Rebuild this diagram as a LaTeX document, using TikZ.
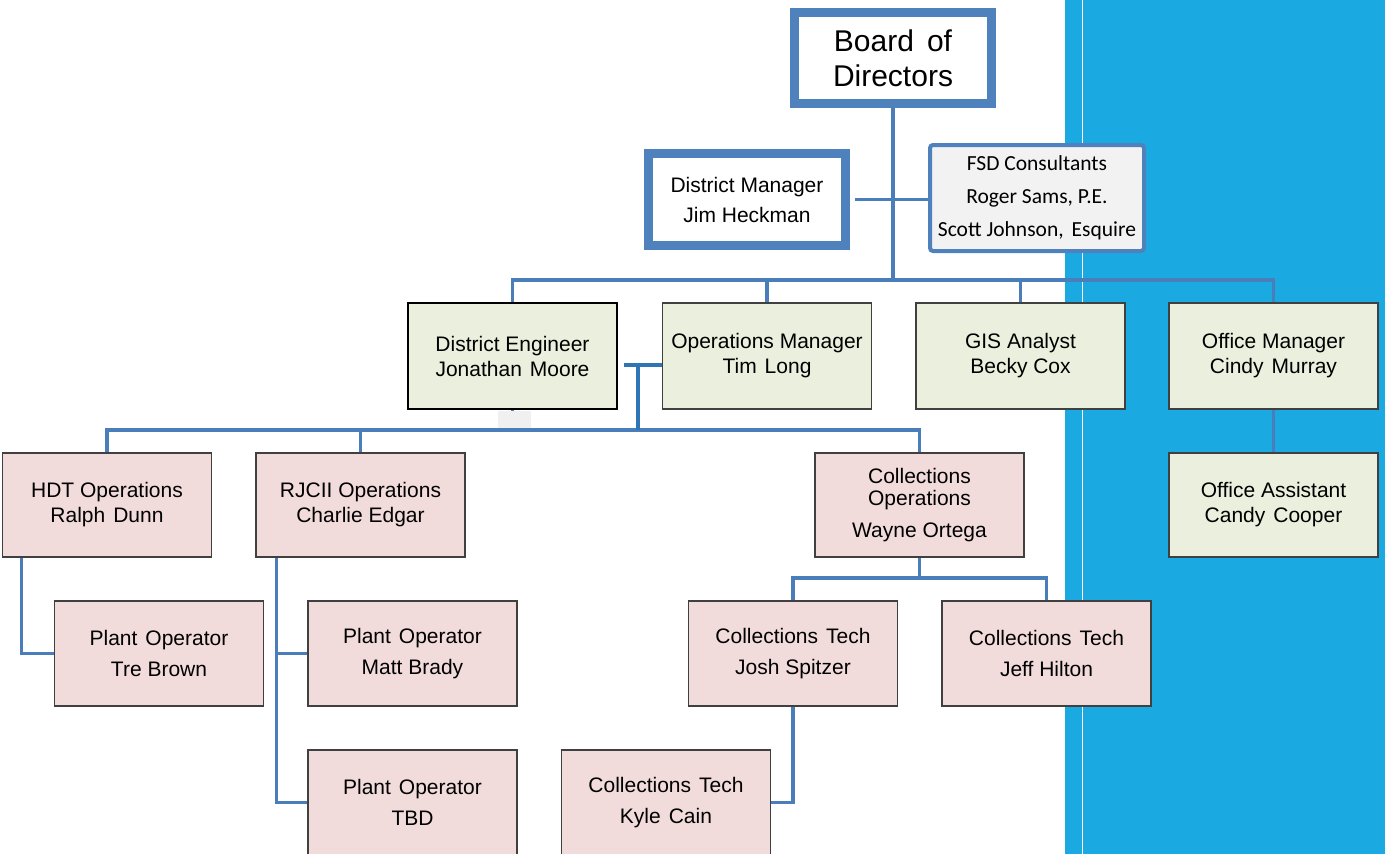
\documentclass[tikz,border=0pt]{standalone}
\usepackage{fontspec}
\setmainfont{Liberation Sans}
\newfontfamily\calib{Carlito}
\usetikzlibrary{calc}
\definecolor{connblue}{HTML}{4A7EBB}
\definecolor{connbright}{HTML}{2E75B6}
\definecolor{pinkfill}{HTML}{F2DCDB}
\definecolor{greenfill}{HTML}{EBEFDD}
\definecolor{bandblue}{HTML}{1BA9E1}
\definecolor{boxline}{HTML}{404040}
\definecolor{thickblue}{HTML}{4F81BD}
\definecolor{fsdfill}{HTML}{F2F2F2}
\newcommand{\wsp}{\hspace{8pt}}
\tikzset{
  basebox/.style={draw=boxline, line width=1.3pt, inner sep=0pt, align=center,
    minimum width=209pt, minimum height=105pt, font=\fontsize{21}{25}\selectfont},
  pinkbox/.style={basebox, fill=pinkfill},
  greenbox/.style={basebox, fill=greenfill},
  thickbox/.style={draw=thickblue, fill=white, line width=9pt, inner sep=0pt, align=center},
  conn/.style={draw=connblue, line width=3.2pt},
  connb/.style={draw=connbright, line width=3.2pt},
}
\begin{document}
\begin{tikzpicture}[x=1pt, y=-1pt]
\useasboundingbox (0,0) rectangle (1385,854);
% background band
\fill[bandblue] (1065,0) rectangle (1385,854);
\draw[white, line width=1pt] (1082,0) -- (1082,854);

% coordinates for buses
\coordinate (bus1) at (0,280);
\coordinate (bus2) at (0,430);
\coordinate (bus3) at (0,578);

% top level
\node[thickbox, minimum width=197pt, minimum height=91pt, font=\fontsize{30}{35}\selectfont] (board) at (893,58) {Board\hspace{13pt}of\\Directors};
\node[thickbox, minimum width=197pt, minimum height=92pt, font=\fontsize{21}{30}\selectfont] (dm) at (747,199.5) {District Manager\\Jim Heckman};
\node[draw=thickblue, fill=fsdfill, line width=4pt, rounded corners=3pt, inner sep=0pt, align=center,
      minimum width=214pt, minimum height=106pt, font=\calib\fontsize{21.5}{33}\selectfont] (fsd) at (1037,198)
      {FSD Consultants\\Roger Sams, P.E.\\Scott Johnson,\wsp Esquire};

% second row
\node[greenbox, draw=black, line width=2pt, minimum height=106pt] (de) at (512.5,356) {District Engineer\\Jonathan\wsp Moore};
\node[greenbox, minimum height=106pt] (ops) at (767,356) {Operations Manager\\Tim\wsp Long};
\node[greenbox, minimum height=106pt] (gis) at (1020.5,356) {GIS Analyst\\Becky Cox};
\node[greenbox, minimum height=106pt] (offm) at (1273.5,356) {Office Manager\\Cindy\wsp Murray};
\node[greenbox, minimum height=104pt] (offa) at (1273.5,505) {Office Assistant\\Candy\wsp Cooper};

% third row
\node[pinkbox, minimum height=104pt] (hdt) at (107,505) {HDT Operations\\Ralph\wsp Dunn};
\node[pinkbox, minimum height=104pt] (rj) at (360.5,505) {RJCII Operations\\Charlie Edgar};
\node[pinkbox, minimum height=104pt] (co) at (919.5,505) {Collections\\[-3pt]Operations\\[7pt]Wayne Ortega};

% fourth row
\node[pinkbox] (tre) at (159,653.5) {Plant\wsp Operator\\[6pt]Tre Brown};
\node[pinkbox] (matt) at (412.5,653.5) {Plant\wsp Operator\\[6pt]Matt Brady};
\node[pinkbox] (josh) at (793,653.5) {Collections\wsp Tech\\[6pt]Josh Spitzer};
\node[pinkbox] (jeff) at (1046.5,653.5) {Collections\wsp Tech\\[6pt]Jeff Hilton};

% fifth row
\node[pinkbox] (tbd) at (412.5,802.5) {Plant\wsp Operator\\[6pt]TBD};
\node[pinkbox] (kyle) at (666,802.5) {Collections\wsp Tech\\[6pt]Kyle\wsp Cain};

% connectors top
\draw[conn] (board.south) -- (board.south |- bus1);
\draw[conn, shorten <=5pt] (dm.east) -- (dm.east -| fsd.west);
\draw[conn] (de.north) |- (offm.north |- bus1) -- (offm.north);
\draw[conn] (ops.north) -- (ops.north |- bus1);
\draw[conn] (gis.north) -- (gis.north |- bus1);
\draw[conn] (offm.south) -- (offa.north);

% second level bus
\coordinate (dejoin) at (638,365);
\draw[conn] (de.south) -- (de.south |- bus2);
\draw[conn] (hdt.north) |- (co.north |- bus2) -- (co.north);
\draw[conn] (rj.north) -- (rj.north |- bus2);
\draw[connb] ([xshift=6pt]de.east |- dejoin) -- (ops.west |- dejoin);
\draw[connb] (dejoin) -- (dejoin |- bus2);
\fill[black!6] (498,411) rectangle (531,428);

% lower connectors
\coordinate (hdtx) at ([xshift=20pt]hdt.south west);
\draw[conn] (hdtx) |- (tre.west);
\coordinate (rjx) at ([xshift=21pt]rj.south west);
\draw[conn] (rjx) |- (tbd.west);
\draw[conn] (matt.west) -- (matt.west -| rjx);
\draw[conn] (co.south) -- (co.south |- bus3);
\draw[conn] (josh.north) |- (jeff.north |- bus3) -- (jeff.north);
\draw[conn] (josh.south) |- (kyle.east);
\end{tikzpicture}
\end{document}
